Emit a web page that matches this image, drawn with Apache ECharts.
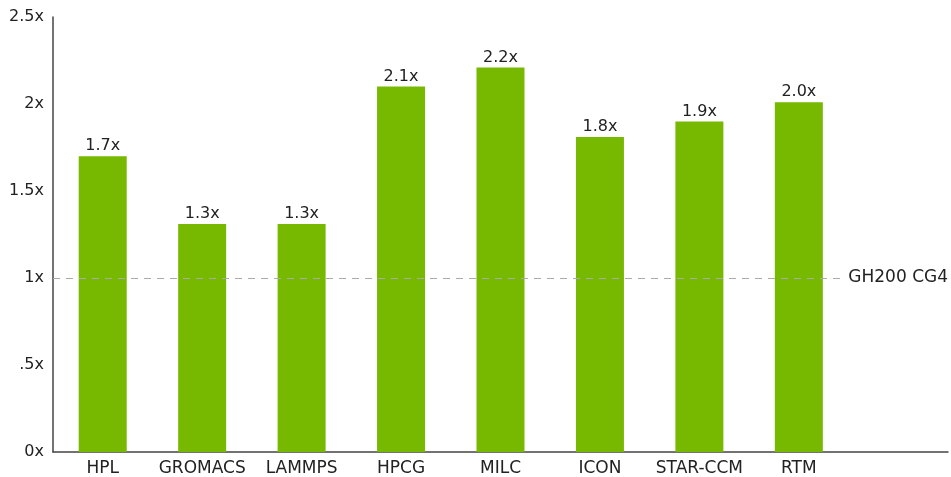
<!DOCTYPE html>
<html>
<head>
<meta charset="utf-8">
<style>
  html, body { margin: 0; padding: 0; background: #fff; }
  #chart { width: 951px; height: 477px; }
</style>
<script src="https://cdn.jsdelivr.net/npm/echarts@6/dist/echarts.min.js"></script>
</head>
<body>
<div id="chart"></div>
<script>
// data
var categories = ['HPL', 'GROMACS', 'LAMMPS', 'HPCG', 'MILC', 'ICON', 'STAR-CCM', 'RTM', ''];
var speedup = [1.7, 1.31, 1.31, 2.1, 2.21, 1.81, 1.9, 2.01, null];
var yTickLabels = ['0x', '.5x', '1x', '1.5x', '2x', '2.5x'];
var baselineValue = 1;
var baselineName = 'GH200 CG4';

var font = '"DejaVu Sans", sans-serif';

var option = {
    animation: false,
    grid: { left: 53, right: 3, top: 17, bottom: 25 },
    xAxis: {
        type: 'category',
        data: categories,
        axisLine: { lineStyle: { color: '#444', width: 1.5 } },
        axisTick: { show: false },
        axisLabel: { color: '#222', fontSize: 17, fontFamily: font, margin: 8, interval: 0 }
    },
    yAxis: {
        type: 'value',
        min: 0,
        max: 2.5,
        interval: 0.5,
        splitLine: { show: false },
        axisTick: { show: false },
        axisLine: { show: true, lineStyle: { color: '#444', width: 1.5 } },
        axisLabel: {
            color: '#222',
            fontSize: 16,
            fontFamily: font,
            margin: 9,
            formatter: function (v) { return yTickLabels[Math.round(v / 0.5)]; }
        }
    },
    series: [{
        type: 'bar',
        data: speedup,
        barWidth: 48,
        itemStyle: { color: '#76b900' },
        label: {
            show: true,
            position: 'top',
            distance: 2,
            color: '#222',
            fontSize: 16,
            fontFamily: font,
            formatter: function (p) { return p.value.toFixed(1) + 'x'; }
        },
        markLine: {
            silent: true,
            symbol: 'none',
            lineStyle: { color: '#aaa', type: [7, 6], width: 1 },
            label: {
                position: 'insideEnd',
                formatter: baselineName,
                color: '#222',
                fontSize: 17,
                fontFamily: font,
                backgroundColor: '#fff',
                padding: [2, 0, 2, 6],
                distance: 0
            },
            data: [{ yAxis: baselineValue }]
        }
    }]
};

var myChart = echarts.init(document.getElementById('chart'));
myChart.setOption(option);
</script>
</body>
</html>
